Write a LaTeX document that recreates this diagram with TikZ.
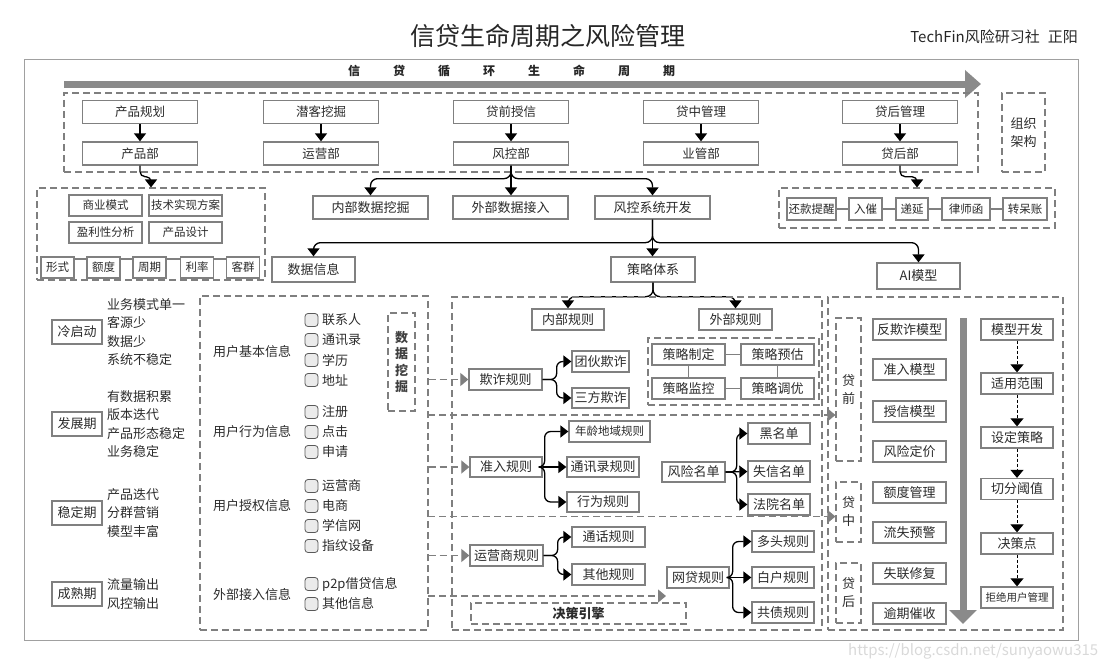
\documentclass[tikz,border=0pt]{standalone}
\usepackage{fontspec}
\setmainfont{Noto Sans CJK SC}
\usetikzlibrary{arrows.meta}
\definecolor{bgray}{HTML}{808080}
\definecolor{dgray}{HTML}{7F7F7F}
\definecolor{txt}{HTML}{2B2B2B}
\definecolor{fgray}{HTML}{A0A0A0}
\definecolor{garrow}{HTML}{8A8A8A}
\newcommand{\fsz}[1]{\fontsize{#1}{#1}\selectfont}
\begin{document}
\begin{tikzpicture}[x=1pt,y=-1pt,
  sz/.style 2 args={minimum width=#1pt, minimum height=#2pt},
  bx/.style={draw=bgray, line width=1.3pt, fill=white, inner sep=0pt, text=txt, font=\fsz{12.5}},
  dbox/.style={draw=dgray, line width=1.1pt, dash pattern=on 7pt off 4pt, inner sep=0pt},
  conn/.style={draw=black, line width=1.3pt, -{Triangle[length=8pt,width=12pt]}},
  dconn/.style={draw=black, line width=1pt, dash pattern=on 3pt off 2pt, -{Triangle[length=8pt,width=13pt]}},
  garr/.style={draw=dgray, line width=1.1pt, dash pattern=on 7pt off 4pt, -{Triangle[length=8pt,width=13pt,fill=dgray,color=dgray]}},
  gline/.style={draw=bgray, line width=1.1pt},
  lbl/.style={inner sep=0pt, text=txt, font=\fsz{13}},
  chk/.style={draw=black!65, fill=black!8, rounded corners=3pt, line width=0.8pt, minimum size=13pt, inner sep=0pt},
  desc/.style={inner sep=0pt, align=left, text=txt, font=\fontsize{13}{18.5}\selectfont}
]
\useasboundingbox (0,0) rectangle (1102,669);
% outer frame
\draw[fgray, line width=1pt] (24,60) rectangle (1078,640);
% title
\node[font=\fsz{25}, text=black!85] (title) at (548,36) {信贷生命周期之风险管理};
\node[font=\fsz{15}, anchor=east, inner sep=0pt, text=black!85] (author) at (1078,37) {TechFin风险研习社\hspace{8pt}正阳};
% lifecycle arrow
\coordinate (lcs) at (64,84);
\coordinate (lce) at (981,84);
\draw[line width=7pt, color=garrow, -{Triangle[length=16pt,width=27pt]}] (lcs) -- (lce);
\node[font=\bfseries\fsz{12}, text=black!85] (lct) at (511.5,71) {信\hspace{33pt}贷\hspace{33pt}循\hspace{33pt}环\hspace{33pt}生\hspace{33pt}命\hspace{33pt}周\hspace{33pt}期};
% top organisation block
\node[dbox, sz={914}{79}] (topbox) at (521,132.5) {};
\node[dbox, sz={43}{79}, align=center, text=txt, font=\fontsize{13}{18}\selectfont] (org) at (1023.5,132.5) {组织\\架构};
\foreach \n/\x/\a/\b in {p/140/产品规划/产品部, q/321/潜客挖掘/运营部, r/511/贷前授信/风控部, s/701/贷中管理/业管部, t/900/贷后管理/贷后部} {
  \node[bx, sz={115}{23}] (\n1) at (\x,112) {\a};
  \node[bx, sz={115}{23}] (\n2) at (\x,153.5) {\b};
  \draw[conn] (\n1.south) -- (\n2.north);
}
% left product block
\node[dbox, sz={228}{92}] (lblk) at (151,234) {};
\node[bx, sz={73}{21}, font=\fsz{11.5}] (bm) at (105.5,205.5) {商业模式};
\node[bx, sz={73}{21}, font=\fsz{11.5}] (tech) at (185.5,205.5) {技术实现方案};
\node[bx, sz={73}{21}, font=\fsz{11.5}] (prof) at (105.5,232.5) {盈利性分析};
\node[bx, sz={73}{21}, font=\fsz{11.5}] (pdes) at (185.5,232.5) {产品设计};
\draw[gline] (57.5,259) -- (243,259);
\node[bx, sz={33}{21}, font=\fsz{11.5}] (xs) at (57.5,267.5) {形式};
\node[bx, sz={33}{21}, font=\fsz{11.5}] (ed) at (103.5,267.5) {额度};
\node[bx, sz={33}{21}, font=\fsz{11.5}] (zq) at (149.5,267.5) {周期};
\node[bx, sz={33}{21}, font=\fsz{11.5}] (ll) at (197,267.5) {利率};
\node[bx, sz={33}{21}, font=\fsz{11.5}] (kq) at (243,267.5) {客群};
% right post-loan block
\node[dbox, sz={276}{40}] (rblk) at (917,208) {};
\node[bx, sz={49}{22}, font=\fsz{11.5}] (hk) at (811.5,209) {还款提醒};
\node[bx, sz={33}{22}, font=\fsz{11.5}] (rcu) at (865.5,209) {入催};
\node[bx, sz={32}{22}, font=\fsz{11.5}] (dy) at (912,209) {递延};
\node[bx, sz={48}{22}, font=\fsz{11.5}] (lsh) at (966,209) {律师函};
\node[bx, sz={44}{22}, font=\fsz{11.5}] (zdz) at (1025,209) {转呆账};
\draw[gline] (hk.east) -- (rcu.west);
\draw[gline] (rcu.east) -- (dy.west);
\draw[gline] (dy.east) -- (lsh.west);
\draw[gline] (lsh.east) -- (zdz.west);
\draw[conn, rounded corners=5pt] (p2.south) -- ++(0,11) -| (lblk.north);
\draw[conn, rounded corners=5pt] (t2.south) -- ++(0,11) -| (rblk.north);
% risk dept branches
\node[bx, sz={115}{23}, font=\fsz{13}] (nb) at (370.5,207.5) {内部数据挖掘};
\node[bx, sz={115}{23}, font=\fsz{13}] (wb) at (510.5,207.5) {外部数据接入};
\node[bx, sz={115}{23}, font=\fsz{13}] (sys) at (652.5,207.5) {风控系统开发};
\draw[conn] (r2.south) -- (r2.south |- wb.north);
\draw[conn, rounded corners=7pt] (r2.south) -- ++(0,13) -| (nb.north);
\draw[conn, rounded corners=7pt] (r2.south) -- ++(0,13) -| (sys.north);
\node[bx, sz={83}{25}, font=\fsz{13}] (sj) at (313.5,269.5) {数据信息};
\node[bx, sz={84}{25}, font=\fsz{13}] (cl) at (653,269.5) {策略体系};
\node[bx, sz={83}{26}, font=\fsz{13}] (ai) at (918.5,276) {AI模型};
\draw[conn] (sys.south) -- (sys.south |- cl.north);
\draw[conn, rounded corners=7pt] (sys.south) -- ++(0,23) -| (sj.north);
\draw[conn, rounded corners=7pt] (sys.south) -- ++(0,23) -| (ai.north);
\node[bx, sz={72}{21}, font=\fsz{13}] (ngz) at (568,319.5) {内部规则};
\node[bx, sz={73}{21}, font=\fsz{13}] (wgz) at (735.5,319.5) {外部规则};
\draw[conn, rounded corners=7pt] (cl.south) -- ++(0,14) -| (ngz.north);
\draw[conn, rounded corners=7pt] (cl.south) -- ++(0,14) -| (wgz.north);
% phases
\foreach \n/\y/\t/\d in {ph1/332/冷启动/{业务模式单一\\客源少\\数据少\\系统不稳定}, ph2/424/发展期/{有数据积累\\版本迭代\\产品形态稳定\\业务稳定}, ph3/513/稳定期/{产品迭代\\分群营销\\模型丰富}, ph4/594/成熟期/{流量输出\\风控输出}} {
  \node[bx, sz={50}{24}, font=\fsz{13}] (\n) at (77,\y) {\t};
  \node[desc, anchor=west] (\n d) at (107,\y) {\d};
}
% user info block
\node[dbox, sz={228}{334}] (ui) at (314,463) {};
\node[lbl, anchor=west] (l1) at (213,352) {用户基本信息};
\node[lbl, anchor=west] (l2) at (213,432) {用户行为信息};
\node[lbl, anchor=west] (l3) at (213,506) {用户授权信息};
\node[lbl, anchor=west] (l4) at (213,595) {外部接入信息};
\foreach \n/\y/\t in {a/320/联系人, b/340/通讯录, c/360/学历, d/380/地址, e/412/注册, f/432/点击, g/452/申请, h/486/运营商, i/506/电商, j/526/学信网, k/546/指纹设备, l/584/p2p借贷信息, m/604/其他信息} {
  \node[chk] (cb\n) at (311.5,\y) {};
  \node[lbl, anchor=west] (ct\n) at (322,\y) {\t};
}
\node[dbox, sz={27}{98}, align=center, text=black!75, font=\bfseries\fontsize{13}{16.5}\selectfont] (dm) at (401.5,362) {数\\据\\挖\\掘};
% containers
\node[dbox, sz={370}{333}] (mid) at (637,463.5) {};
\node[dbox, sz={235}{333}] (rcon) at (945.5,463.5) {};
% fraud rules
\node[bx, sz={73}{21}, font=\fsz{13}] (qz) at (505.5,379.5) {欺诈规则};
\node[bx, sz={57}{21}, font=\fsz{13}] (thqz) at (600.5,361.5) {团伙欺诈};
\node[bx, sz={57}{20}, font=\fsz{13}] (sfqz) at (600.5,398) {三方欺诈};
\draw[conn, rounded corners=6pt] (qz.east) -- ++(14,0) |- (thqz.west);
\draw[conn, rounded corners=6pt] (qz.east) -- ++(14,0) |- (sfqz.west);
% strategy cycle
\node[dbox, sz={171}{67}] (clbox) at (733.5,371.5) {};
\node[bx, sz={73}{21}, font=\fsz{13}] (zd) at (688.5,354.5) {策略制定};
\node[bx, sz={73}{21}, font=\fsz{13}] (yg) at (777.5,354.5) {策略预估};
\node[bx, sz={73}{21}, font=\fsz{13}] (jk) at (688.5,388.5) {策略监控};
\node[bx, sz={73}{21}, font=\fsz{13}] (dyo) at (777.5,388.5) {策略调优};
\draw[gline] (zd.east) -- (yg.west);
\draw[gline] (jk.east) -- (dyo.west);
\draw[gline] (zd.south) -- (jk.north);
\draw[gline] (yg.south) -- (dyo.north);
% admission rules
\node[bx, sz={72}{20}, font=\fsz{13}] (zr) at (506,467) {准入规则};
\node[bx, sz={81}{21}, font=\fsz{11.5}] (nl) at (609.5,431.5) {年龄地域规则};
\node[bx, sz={72}{20}, font=\fsz{13}] (txl) at (603,467) {通讯录规则};
\node[bx, sz={72}{20}, font=\fsz{13}] (xw) at (603,502) {行为规则};
\draw[conn] (zr.east) -- (txl.west);
\draw[conn, rounded corners=6pt] (zr.east) -- ++(2,0) |- (nl.west);
\draw[conn, rounded corners=6pt] (zr.east) -- ++(2,0) |- (xw.west);
\node[bx, sz={63}{20}, font=\fsz{13}] (fx) at (693.5,472) {风险名单};
\node[bx, sz={62}{21}, font=\fsz{13}] (hm) at (779,433.5) {黑名单};
\node[bx, sz={62}{21}, font=\fsz{13}] (sx) at (779,471.5) {失信名单};
\node[bx, sz={62}{21}, font=\fsz{13}] (fy) at (779,504.5) {法院名单};
\draw[conn] (fx.east) -- (sx.west);
\draw[conn, rounded corners=6pt] (fx.east) -- ++(11,0) |- (hm.west);
\draw[conn, rounded corners=6pt] (fx.east) -- ++(11,0) |- (fy.west);
% operator rules
\node[bx, sz={73}{21}, font=\fsz{13}] (yy) at (506.5,555.5) {运营商规则};
\node[bx, sz={73}{20}, font=\fsz{13}] (th) at (608.5,537) {通话规则};
\node[bx, sz={73}{21}, font=\fsz{13}] (qt) at (608.5,574.5) {其他规则};
\draw[conn, rounded corners=6pt] (yy.east) -- ++(14,0) |- (th.west);
\draw[conn, rounded corners=6pt] (yy.east) -- ++(14,0) |- (qt.west);
\node[bx, sz={62}{21}, font=\fsz{13}] (wd) at (698,577.5) {网贷规则};
\node[bx, sz={62}{21}, font=\fsz{13}] (dt) at (783,541.5) {多头规则};
\node[bx, sz={62}{21}, font=\fsz{13}] (bh) at (783,577.5) {白户规则};
\node[bx, sz={62}{21}, font=\fsz{13}] (gzh) at (783,612.5) {共债规则};
\draw[conn] (wd.east) -- (bh.west);
\draw[conn, rounded corners=6pt] (wd.east) -- ++(3,0) |- (dt.west);
\draw[conn, rounded corners=6pt] (wd.east) -- ++(3,0) |- (gzh.west);
\node[dbox, sz={215}{21}, text=txt, font=\bfseries\fsz{13}] (jc) at (578.5,613.5) {决策引擎};
% stage boxes
\node[dbox, sz={25}{143}, align=center, text=txt, font=\fontsize{13}{18}\selectfont] (dq) at (848.5,389.5) {贷\\前};
\node[dbox, sz={25}{60}, align=center, text=txt, font=\fontsize{13}{18}\selectfont] (dz) at (848.5,512) {贷\\中};
\node[dbox, sz={25}{60}, align=center, text=txt, font=\fontsize{13}{18}\selectfont] (dh) at (848.5,593) {贷\\后};
% dashed gray connectors
\coordinate (sep1) at (428,415);
\coordinate (sep2) at (428,516.5);
\coordinate (sep3) at (428,596);
\coordinate (sep3e) at (666,596);
\draw[garr] (ui.east |- qz.west) -- (qz.west);
\draw[garr] (ui.east |- zr.west) -- (zr.west);
\draw[garr] (ui.east |- yy.west) -- (yy.west);
\draw[garr] (sep1) -- (sep1 -| dq.west);
\draw[garr] (sep2) -- (sep2 -| dz.west);
\draw[garr] (sep3) -- (sep3e);
% models
\foreach \n/\y/\t in {m1/329.5/反欺诈模型, m2/369.5/准入模型, m3/411.5/授信模型, m4/451.5/风险定价, m5/492.5/额度管理, m6/532.5/流失预警, m7/573.5/失联修复, m8/613.5/逾期催收} {
  \node[bx, sz={73}{21}, font=\fsz{13}] (\n) at (909.5,\y) {\t};
}
\coordinate (va1) at (963,318);
\coordinate (va2) at (963,624);
\draw[line width=7pt, color=garrow, -{Triangle[length=14pt,width=27pt]}] (va1) -- (va2);
\node[bx, sz={72}{21}, font=\fsz{13}] (f1) at (1017,329.5) {模型开发};
\node[bx, sz={72}{21}, font=\fsz{13}] (f2) at (1017,383.5) {适用范围};
\node[bx, sz={72}{21}, font=\fsz{13}] (f3) at (1017,437.5) {设定策略};
\node[bx, sz={72}{21}, font=\fsz{13}] (f4) at (1017,489) {切分阈值};
\node[bx, sz={72}{21}, font=\fsz{13}] (f5) at (1017,543.5) {决策点};
\node[bx, sz={72}{21}, font=\fsz{10.5}] (f6) at (1017,597.5) {拒绝用户管理};
\draw[dconn] (f1.south) -- (f2.north);
\draw[dconn] (f2.south) -- (f3.north);
\draw[dconn] (f3.south) -- (f4.north);
\draw[dconn] (f4.south) -- (f5.north);
\draw[dconn] (f5.south) -- (f6.north);
% watermark
\node[font=\fsz{15}, text=black!15, anchor=west, inner sep=0pt] (wm) at (848,651) {https://blog.csdn.net/sunyaowu315};
\end{tikzpicture}
\end{document}
